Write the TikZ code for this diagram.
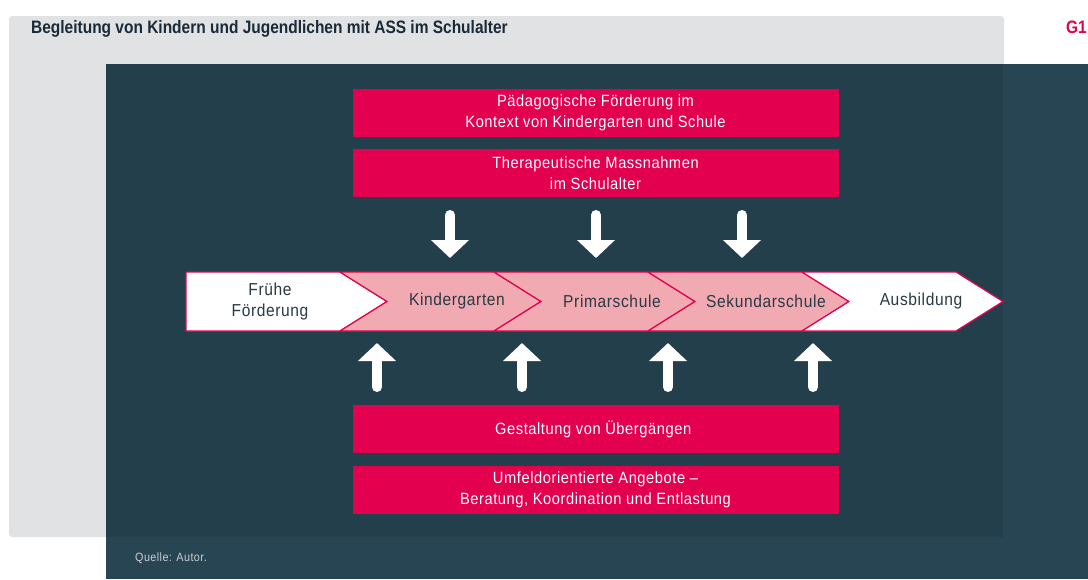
\documentclass[tikz,border=0pt]{standalone}
\usepackage{fontspec}
\setmainfont{Liberation Sans}[FakeStretch=0.9, LetterSpace=3.5]
\newfontfamily\titlefont{Liberation Sans}[FakeStretch=0.86]
\usepackage{tikz}
\usetikzlibrary{arrows.meta}
\usetikzlibrary{calc}
\definecolor{graybg}{HTML}{E1E2E4}
\definecolor{panel}{HTML}{284553}
\definecolor{panelover}{HTML}{243F4C}
\definecolor{assred}{HTML}{E3004F}
\definecolor{steppink}{HTML}{F1AAB2}
\definecolor{steptext}{HTML}{2A3944}
\definecolor{titletext}{HTML}{1B2A38}
\definecolor{sourcetext}{HTML}{C9CED2}
\tikzstyle{redbox} = [rectangle, minimum width=486pt, minimum height=48pt, inner sep=0pt, text centered, align=center, fill=assred, text=white, font=\fontsize{16.3}{20.7}\selectfont]
\tikzstyle{steplabel} = [align=center, text=steptext, font=\fontsize{17.3}{21}\selectfont]
\tikzstyle{chevron} = [draw=assred, line width=1.2pt]
\tikzstyle{blockarrow} = [white, line width=10pt, line cap=round, -{Triangle[width=37pt,length=18pt]}]

\begin{document}
\begin{tikzpicture}[x=1pt, y=-1pt]

    \useasboundingbox (0,0) rectangle (1088,579);

    \fill[graybg, rounded corners=3pt] (9,16) rectangle (1004,537);
    \fill[panel] (106,64) rectangle (1088,579);
    \fill[panelover] (106,64) rectangle (1003,537);

    \node[anchor=base west,
        inner sep=0pt,
        text=titletext,
        font=\titlefont\bfseries\fontsize{18}{20}\selectfont]
    (title) at (31,33) {Begleitung von Kindern und Jugendlichen mit ASS im Schulalter};

    \node[anchor=base east,
        inner sep=0pt,
        text=assred,
        font=\titlefont\bfseries\fontsize{18}{20}\selectfont]
    (gnum) at (1087,33) {G1};

    \node[redbox] (paed) at (595.5,112.5) {
        Pädagogische Förderung im\\
        Kontext von Kindergarten und Schule
    };

    \node[redbox] (thera) at (595.5,173) {
        Therapeutische Massnahmen\\
        im Schulalter
    };

    \node[redbox] (uebergang) at (595.5,429) {
        Gestaltung von Übergängen
    };

    \node[redbox] (umfeld) at (595.5,490) {
        Umfeldorientierte Angebote --\\
        Beratung, Koordination und Entlastung
    };

    % chevron band
    \filldraw[chevron, fill=white] (186,272) -- (340,272) -- (387,301.5) -- (340,331) -- (186,331) -- cycle;
    \filldraw[chevron, fill=steppink] (340,272) -- (494,272) -- (541,301.5) -- (494,331) -- (340,331) -- (387,301.5) -- cycle;
    \filldraw[chevron, fill=steppink] (494,272) -- (648,272) -- (695,301.5) -- (648,331) -- (494,331) -- (541,301.5) -- cycle;
    \filldraw[chevron, fill=steppink] (648,272) -- (802,272) -- (849,301.5) -- (802,331) -- (648,331) -- (695,301.5) -- cycle;
    \filldraw[chevron, fill=white] (802,272) -- (956,272) -- (1003,301.5) -- (956,331) -- (802,331) -- (849,301.5) -- cycle;

    \node[steplabel] (fruehe) at (270,301.5) {Frühe\\Förderung};
    \node[steplabel] (kiga) at (457,301.5) {Kindergarten};
    \node[steplabel] (primar) at (612,301.5) {Primarschule};
    \node[steplabel] (sek) at (766,301.5) {Sekundarschule};
    \node[steplabel] (ausb) at (921,301.5) {Ausbildung};

    \draw [blockarrow] (450,215) -- (450,258);
    \draw [blockarrow] (596,215) -- (596,258);
    \draw [blockarrow] (742,215) -- (742,258);

    \draw [blockarrow] (377,387) -- (377,343);
    \draw [blockarrow] (522,387) -- (522,343);
    \draw [blockarrow] (668,387) -- (668,343);
    \draw [blockarrow] (813,387) -- (813,343);

    \node[anchor=base west,
        inner sep=0pt,
        text=sourcetext,
        font=\fontsize{12}{14}\selectfont]
    (quelle) at (135,561) {Quelle: Autor.};

\end{tikzpicture}
\end{document}
